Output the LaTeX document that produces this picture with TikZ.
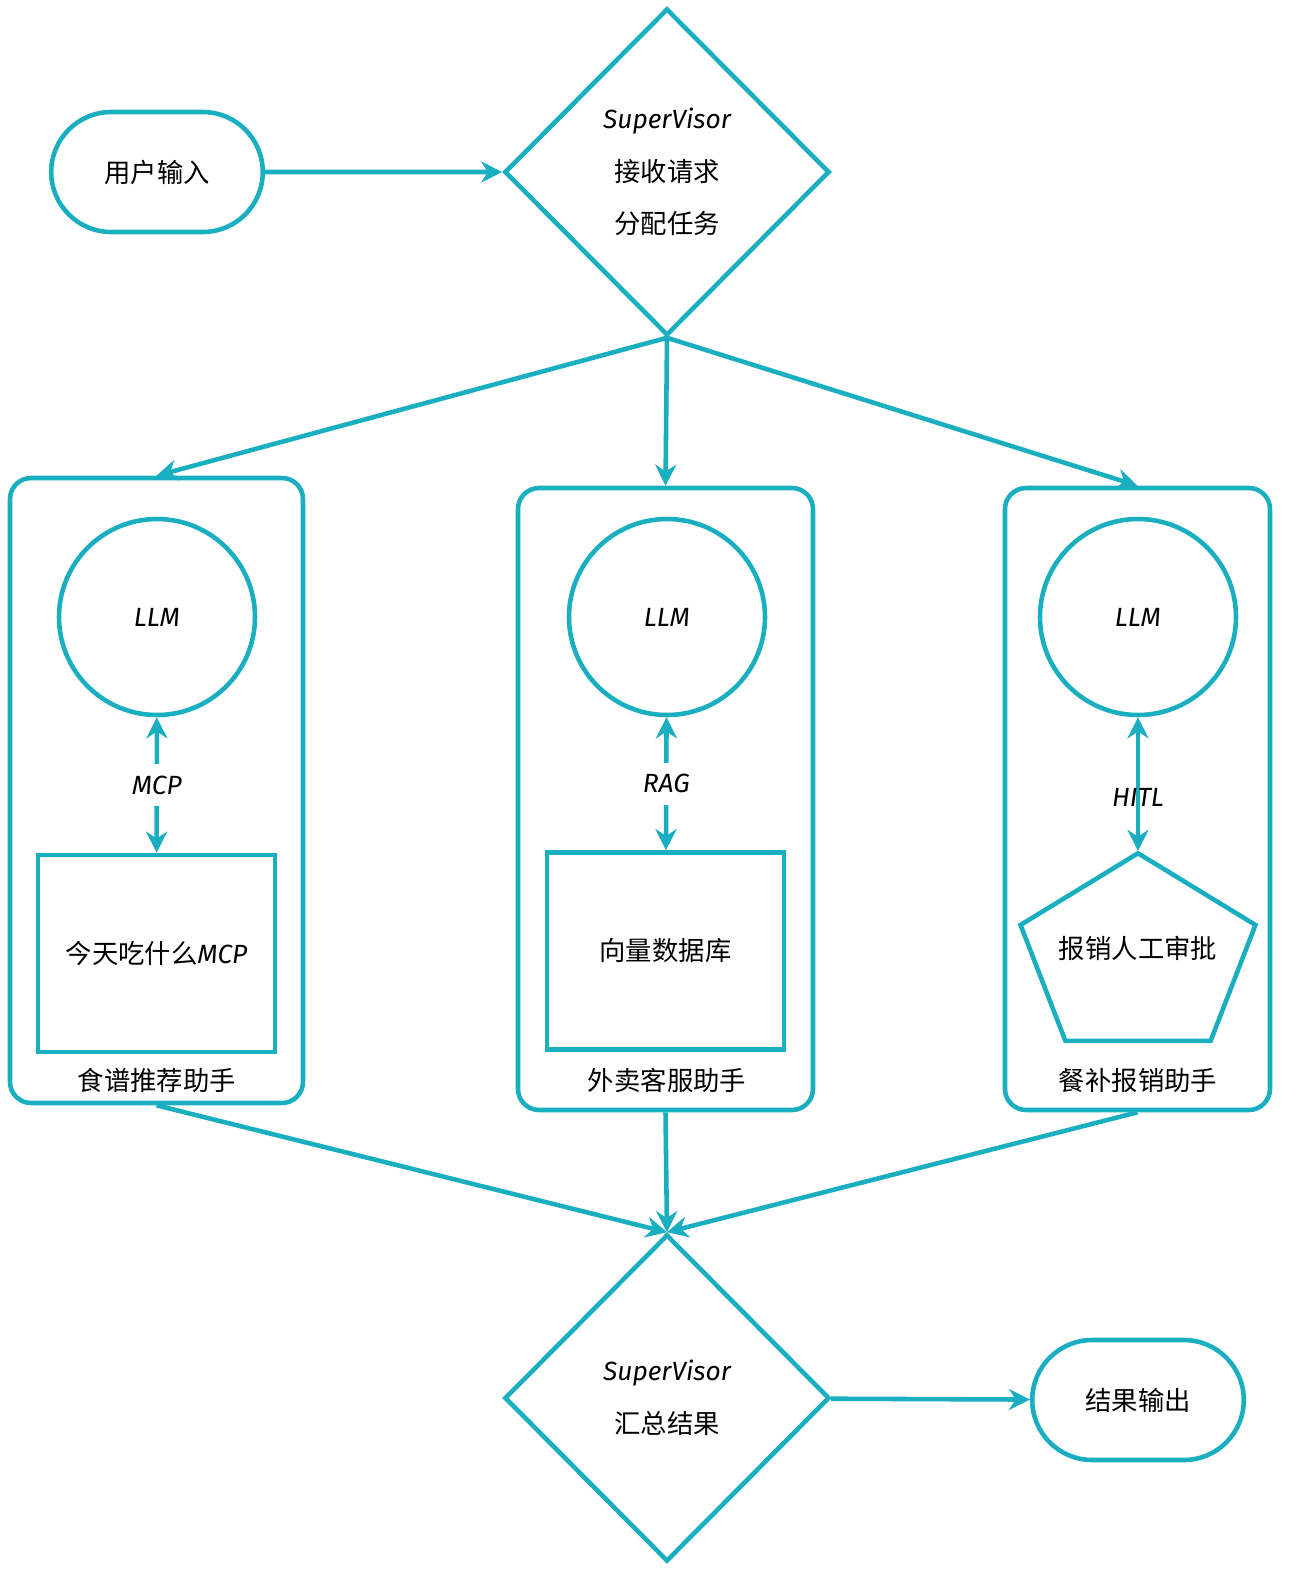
\documentclass[tikz,border=0pt]{standalone}
\usepackage{fontspec}
\setmainfont{Noto Sans CJK SC}
\newfontfamily\latinfont{Fira Sans}
\usetikzlibrary{shapes.geometric, shapes.misc, arrows.meta}
\usetikzlibrary{positioning}
\definecolor{flow}{RGB}{26,175,192}
\newcommand{\lat}[1]{{\latinfont\itshape #1}}
\tikzstyle{terminal} = [rounded rectangle, minimum width=2.35cm, minimum height=1.2cm, draw=flow, line width=1.3pt]
\tikzstyle{decision} = [diamond, minimum width=3.25cm, minimum height=3.27cm, inner sep=0pt, draw=flow, line width=1.3pt, align=center]
\tikzstyle{agent} = [rectangle, rounded corners=6pt, draw=flow, line width=1.3pt]
\tikzstyle{model} = [circle, minimum size=1.96cm, draw=flow, line width=1.3pt]
\tikzstyle{store} = [rectangle, minimum width=2.37cm, minimum height=1.97cm, draw=flow, line width=1.3pt]
\tikzstyle{arrow} = [line width=1.3pt, draw=flow, -{Stealth[length=6pt,width=6pt]}]
\tikzstyle{both} = [line width=1.3pt, draw=flow, {Stealth[length=6pt,width=6pt]}-{Stealth[length=6pt,width=6pt]}]

\begin{document}
\begin{tikzpicture}[font=\fontsize{7.5}{9}\selectfont]
 \useasboundingbox (0,0) rectangle (12.97,-15.87);
 \node (user_input) [terminal] at (1.57,-1.72) {用户输入};
 \node (dispatch) [decision] at (6.67,-1.72) {\lat{SuperVisor}\\[6pt]接收请求\\[6pt]分配任务};

 \node (recipe) [agent, minimum width=2.93cm, minimum height=6.25cm] at (1.565,-7.905) {};
 \node (delivery) [agent, minimum width=2.95cm, minimum height=6.22cm] at (6.655,-7.99) {};
 \node (expense) [agent, minimum width=2.65cm, minimum height=6.22cm] at (11.375,-7.99) {};

 \node (llm_a) [model] at (1.57,-6.17) {\lat{LLM}};
 \node (llm_b) [model] at (6.67,-6.17) {\lat{LLM}};
 \node (llm_c) [model] at (11.38,-6.17) {\lat{LLM}};

 \node (mcp) [store] at (1.565,-9.535) {今天吃什么\lat{MCP}};
 \node (vector_db) [store] at (6.655,-9.51) {向量数据库};
 \node (approval) [regular polygon, regular polygon sides=5, minimum size=2.47cm, inner sep=0pt, draw=flow, line width=1.3pt, yscale=0.84, transform shape] at (11.38,-9.57) {};
 \node (approval_text) at (11.38,-9.48) {报销人工审批};

 \node (recipe_label) at (1.57,-10.8) {食谱推荐助手};
 \node (delivery_label) at (6.67,-10.8) {外卖客服助手};
 \node (expense_label) at (11.38,-10.8) {餐补报销助手};

 \node (merge) [decision] at (6.67,-13.98) {\lat{SuperVisor}\\[6pt]汇总结果};
 \node (result) [terminal] at (11.38,-14.0) {结果输出};

 \draw [arrow] (user_input) -- (dispatch);
 \draw [arrow] (dispatch.south) -- (recipe.north);
 \draw [arrow] (dispatch.south) -- (delivery.north);
 \draw [arrow] (dispatch.south) -- (expense.north);

 \draw [both] (llm_a) -- node[fill=white] {\lat{MCP}} (mcp);
 \draw [both] (llm_b) -- node[fill=white] {\lat{RAG}} (vector_db);
 \draw [both] (llm_c) -- node[pos=0.6] {\lat{HITL}} (approval.corner 1);

 \draw [arrow] (recipe.south) -- (merge.north);
 \draw [arrow] (delivery.south) -- (merge.north);
 \draw [arrow] (expense.south) -- (merge.north);
 \draw [arrow] (merge) -- (result);
\end{tikzpicture}
\end{document}
